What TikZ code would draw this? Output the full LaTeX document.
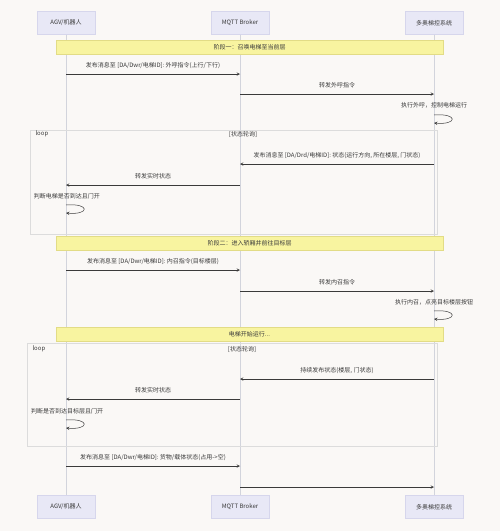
\documentclass[tikz,border=0pt]{standalone}
\usepackage{fontspec}
\setmainfont{Noto Sans CJK SC}
\usetikzlibrary{positioning}
\definecolor{bgcol}{HTML}{FAF8F6}
\definecolor{actcol}{HTML}{E8E8F6}
\definecolor{actline}{HTML}{D6D6EC}
\definecolor{barcol}{HTML}{F8F4A0}
\definecolor{barline}{HTML}{E2DC86}
\definecolor{lifecol}{HTML}{D2D4DC}
\definecolor{framecol}{HTML}{DCDCDC}
\definecolor{txtcol}{HTML}{3A3A3A}
\tikzset{
  actor/.style={draw=actline,fill=actcol,minimum width=58pt,minimum height=23pt,
    font=\fontsize{6}{7}\selectfont,text=txtcol},
  life/.style={lifecol,line width=0.6pt},
  phase/.style={draw=barline,fill=barcol,minimum width=387pt,minimum height=14pt,
    font=\fontsize{6}{7}\selectfont,text=txtcol},
  msg/.style={->,>=stealth,txtcol,line width=0.5pt},
  lbl/.style={font=\fontsize{6}{7}\selectfont,text=txtcol},
  frame/.style={draw=framecol,line width=0.6pt},
}
\begin{document}
\begin{tikzpicture}[x=1pt,y=-1pt]
    \fill[bgcol] (0,0) rectangle (500,531);
    \useasboundingbox (0,0) rectangle (500,531);

    % participants
    \node[actor] (agv) at (66,23) {AGV/机器人};
    \node[actor] (brk) at (240,23) {MQTT Broker};
    \node[actor] (sys) at (434,23) {多奥梯控系统};
    \node[actor] (agvb) at (66,507) {AGV/机器人};
    \node[actor] (brkb) at (240,507) {MQTT Broker};
    \node[actor] (sysb) at (434,507) {多奥梯控系统};
    \draw[life] (agv) -- (agvb);
    \draw[life] (brk) -- (brkb);
    \draw[life] (sys) -- (sysb);

    % loop frames
    \draw[frame] (30,130) rectangle (437,234);
    \node[lbl,anchor=west] (loopa) at (32,134) {loop};
    \node[lbl] (conda) at (243,134) {[状态轮询]};
    \draw[frame] (27,343) rectangle (437,446);
    \node[lbl,anchor=west] (loopb) at (29,349) {loop};
    \node[lbl] (condb) at (242,349) {[状态轮询]};

    % phases
    \node[phase] (ph1) at (249.5,47) {阶段一：召唤电梯至当前层};
    \node[phase] (ph2) at (249.5,243) {阶段二：进入轿厢并前往目标层};
    \node[phase] (ph3) at (249.5,334) {电梯开始运行...};

    % stage one
    \draw[msg] (agv |- 0,74) -- (brk |- 0,74) node[lbl,midway,above=2pt] {发布消息至 [DA/Dwr/电梯ID]: 外呼指令(上行/下行)};
    \draw[msg] (brk |- 0,94) -- (sys |- 0,94) node[lbl,midway,above=2pt] {转发外呼指令};
    \node[lbl] (self1) at (434,105) {执行外呼，控制电梯运行};
    \draw[msg] (sys |- 0,115) .. controls +(24,-2) and +(24,2) .. (sys |- 0,123);
    \draw[msg] (sys |- 0,164) -- (brk |- 0,164) node[lbl,midway,above=2pt] {发布消息至 [DA/Drd/电梯ID]: 状态(运行方向, 所在楼层, 门状态)};
    \draw[msg] (brk |- 0,185) -- (agv |- 0,185) node[lbl,midway,above=2pt] {转发实时状态};
    \node[lbl] (self2) at (67,196) {判断电梯是否到达且门开};
    \draw[msg] (agv |- 0,205) .. controls +(24,-2) and +(24,2) .. (agv |- 0,213);

    % stage two
    \draw[msg] (agv |- 0,270) -- (brk |- 0,270) node[lbl,midway,above=2pt] {发布消息至 [DA/Dwr/电梯ID]: 内召指令(目标楼层)};
    \draw[msg] (brk |- 0,291) -- (sys |- 0,291) node[lbl,midway,above=2pt] {转发内召指令};
    \node[lbl] (self3) at (434,302) {执行内召，点亮目标楼层按钮};
    \draw[msg] (sys |- 0,311) .. controls +(24,-2) and +(24,2) .. (sys |- 0,319);
    \draw[msg] (sys |- 0,379) -- (brk |- 0,379) node[lbl,midway,above=2pt] {持续发布状态(楼层, 门状态)};
    \draw[msg] (brk |- 0,399) -- (agv |- 0,399) node[lbl,midway,above=2pt] {转发实时状态};
    \node[lbl] (self4) at (67,411) {判断是否到达目标层且门开};
    \draw[msg] (agv |- 0,420) .. controls +(24,-2) and +(24,2) .. (agv |- 0,428);
    \draw[msg] (agv |- 0,466) -- (brk |- 0,466) node[lbl,midway,above=2pt] {发布消息至 [DA/Dwr/电梯ID]: 货物/载体状态(占用->空)};
    \draw[msg] (brk |- 0,487) -- (sys |- 0,487);
\end{tikzpicture}
\end{document}
